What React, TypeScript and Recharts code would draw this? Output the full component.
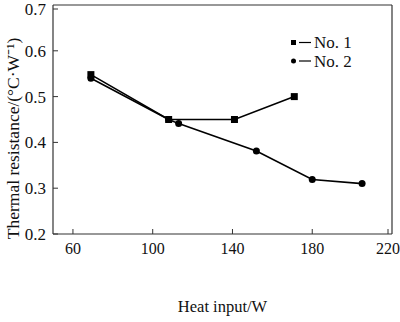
import React from "react";
import { LineChart, Line, XAxis, YAxis, Legend, ReferenceLine } from "recharts";

// Heat input (W) vs thermal resistance (°C/W)
const no1X = [69, 108, 141, 171];
const no1Y = [0.548, 0.45, 0.45, 0.5];
const no2X = [69, 108, 113, 152, 180, 205];
const no2Y = [0.54, 0.45, 0.441, 0.381, 0.319, 0.31];
const xTicks = [60, 100, 140, 180, 220];
const yTicks = [0.2, 0.3, 0.4, 0.5, 0.6, 0.7];

const no1 = no1X.map((x, i) => ({ x, y: no1Y[i] }));
const no2 = no2X.map((x, i) => ({ x, y: no2Y[i] }));

const FONT = "Liberation Serif, Times New Roman, serif";

const SquareDot = (p: any) => (
  <rect x={p.cx - 3.5} y={p.cy - 3.5} width={7} height={7} fill="#000" />
);
const CircleDot = (p: any) => <circle cx={p.cx} cy={p.cy} r={3.5} fill="#000" />;

const XTick = (p: any) => (
  <g>
    <line x1={p.x} y1={p.y} x2={p.x} y2={p.y - 5} stroke="#333" />
    <text x={p.x} y={p.y + 20} textAnchor="middle" fontFamily={FONT} fontSize={16} fill="#111">
      {p.payload.value}
    </text>
  </g>
);

const YTick = (p: any) => (
  <g>
    <line x1={p.x} y1={p.y} x2={p.x + 5} y2={p.y} stroke="#333" />
    <text x={p.x - 7} y={p.y + 6} textAnchor="end" fontFamily={FONT} fontSize={17} fill="#111">
      {p.payload.value.toFixed(1)}
    </text>
  </g>
);

const LegendBox = () => (
  <svg width={80} height={40}>
    <rect x={0} y={9} width={5} height={5} fill="#000" />
    <line x1={8} y1={11.5} x2={20} y2={11.5} stroke="#000" strokeWidth={1.2} />
    <text x={23} y={17} fontFamily={FONT} fontSize={17} fill="#111">No. 1</text>
    <circle cx={2.5} cy={30} r={2.5} fill="#000" />
    <line x1={8} y1={30} x2={20} y2={30} stroke="#000" strokeWidth={1.2} />
    <text x={23} y={35.5} fontFamily={FONT} fontSize={17} fill="#111">No. 2</text>
  </svg>
);

export default function App() {
  return (
    <div style={{ position: "absolute", left: 0, top: 0, background: "#fff" }}>
      <LineChart width={400} height={322} margin={{ top: 5, right: 8, left: 0, bottom: 0 }}>
        <XAxis
          dataKey="x"
          type="number"
          domain={[50, 220]}
          ticks={xTicks}
          height={44}
          tickSize={0}
          tickMargin={0}
          tick={<XTick />}
          axisLine={{ stroke: "#333", strokeWidth: 1.2 }}
          allowDataOverflow
        />
        <YAxis
          dataKey="y"
          type="number"
          domain={[0.2, 0.7]}
          ticks={yTicks}
          width={53}
          tickSize={0}
          tickMargin={0}
          tick={<YTick />}
          axisLine={{ stroke: "#333", strokeWidth: 1.2 }}
          allowDataOverflow
          label={{
            value: "Thermal resistance/(°C·W⁻¹)",
            angle: -90,
            position: "insideLeft",
            offset: 0,
            dx: 13,
            dy: 19,
            style: { fontFamily: FONT, fontSize: 17.5, fill: "#111", textAnchor: "middle" },
          }}
        />
        <ReferenceLine y={0.7} stroke="#333" strokeWidth={1.2} ifOverflow="visible" />
        <ReferenceLine x={220} stroke="#333" strokeWidth={1.2} ifOverflow="visible" />
        <Legend
          content={<LegendBox />}
          wrapperStyle={{ position: "absolute", left: 291, top: 31, width: 80 }}
        />
        <Line
          data={no1}
          dataKey="y"
          name="No. 1"
          stroke="#000"
          strokeWidth={1.6}
          dot={<SquareDot />}
          isAnimationActive={false}
        />
        <Line
          data={no2}
          dataKey="y"
          name="No. 2"
          stroke="#000"
          strokeWidth={1.6}
          dot={<CircleDot />}
          isAnimationActive={false}
        />
      </LineChart>
      <div
        style={{
          position: "absolute",
          left: 53,
          width: 339,
          top: 297,
          textAlign: "center",
          fontFamily: FONT,
          fontSize: 16.5,
          color: "#111",
        }}
      >
        Heat input/W
      </div>
    </div>
  );
}
